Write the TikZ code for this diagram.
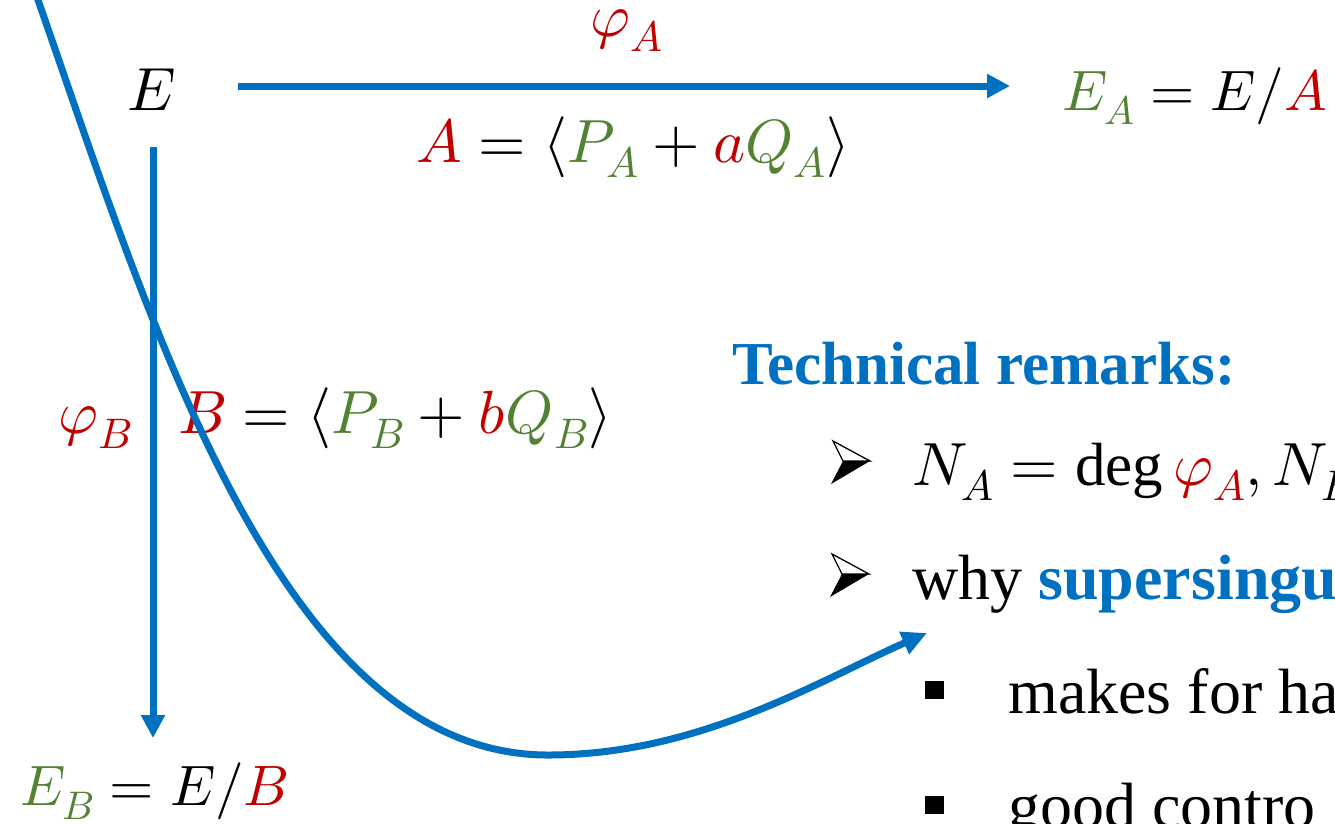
\documentclass[tikz,border=0pt]{standalone}
\usepackage{fontspec}
\usepackage{unicode-math}
\setmainfont{Liberation Serif}
\setmathfont{Latin Modern Math}
\usetikzlibrary{arrows.meta}
\definecolor{pblue}{HTML}{0070C0}
\definecolor{pred}{HTML}{C00000}
\definecolor{pgreen}{HTML}{548235}
\newcommand{\mathsize}{\fontsize{61}{70}\selectfont}
\newcommand{\quotsize}{\fontsize{57}{66}\selectfont}
\newcommand{\bodysize}{\fontsize{64}{72}\selectfont}
\tikzset{
  mtxt/.style={inner sep=0pt, anchor=base west, font=\mathsize},
  qtxt/.style={inner sep=0pt, anchor=base west, font=\quotsize},
  btxt/.style={inner sep=0pt, anchor=base west, font=\bodysize},
  conn/.style={draw=pblue, line width=7pt, -{Triangle[length=23pt,width=23pt]}},
  curveline/.style={draw=pblue, line width=7pt, -{Triangle[length=25pt,width=23pt]}},
  arrowbullet/.pic={
    \fill[black] (12,20) -- (39,20) -- (0,43) -- cycle;
    \draw[black, line width=1.3pt, line join=miter] (2,0) -- (39,20) -- (12,20) -- cycle;
  },
  squarebullet/.style={fill=black}
}
\begin{document}
\begin{tikzpicture}[x=1pt,y=-1pt]
\useasboundingbox (0,0) rectangle (1335,823);
% objects
\node[mtxt, anchor=base] (E) at (152,110) {$E$};
\node[qtxt] (EA) at (1062,110) {$\textcolor{pgreen}{E_A} = E/\textcolor{pred}{A}$};
\node[qtxt] (EB) at (20,805) {$\textcolor{pgreen}{E_B} = E/\textcolor{pred}{B}$};
% map labels
\node[mtxt, text=pred] (phiA) at (590,36) {$\varphi_A$};
\node[mtxt] (kerA) at (416,162) {$\textcolor{pred}{A} = \langle \textcolor{pgreen}{P_A} + \textcolor{pred}{a}\textcolor{pgreen}{Q_A}\rangle$};
\node[mtxt, text=pred] (phiB) at (58,433) {$\varphi_B$};
\node[mtxt] (kerB) at (178,433) {$\textcolor{pred}{B} = \langle \textcolor{pgreen}{P_B} + \textcolor{pred}{b}\textcolor{pgreen}{Q_B}\rangle$};
% arrows
\coordinate (hA) at (238,86);
\coordinate (hB) at (1010,86);
\coordinate (vA) at (153,147);
\coordinate (vB) at (153,738);
\draw[conn] (hA) -- (hB);
\draw[conn] (vA) -- (vB);
% remarks
\node[inner sep=0pt, anchor=base west, font=\fontsize{61}{70}\selectfont\bfseries, text=pblue] (title) at (732,384) {Technical remarks:};
\pic at (831,441) {arrowbullet};
\node[mtxt] (r1) at (912,485) {$N_A = \deg \textcolor{pred}{\varphi_A}, N_B$};
\pic at (830,554) {arrowbullet};
\node[btxt] (r2) at (912,599) {why \textcolor{pblue}{\bfseries supersingu}};
\fill[squarebullet] (925,681) rectangle (944,699);
\node[btxt] (r3) at (1008,713) {makes for ha};
\fill[squarebullet] (925,796) rectangle (944,814);
\node[btxt] (r4) at (1008,827) {good contro};
% curve
\coordinate (c0) at (36,-6);
\coordinate (c1) at (38,0);
\coordinate (cm) at (548,755);
\coordinate (c2) at (927,633);
\draw[curveline] (c0) -- (c1) .. controls (150,320) and (280,755) .. (cm) .. controls (700,755) and (820,680) .. (c2);
\end{tikzpicture}
\end{document}
